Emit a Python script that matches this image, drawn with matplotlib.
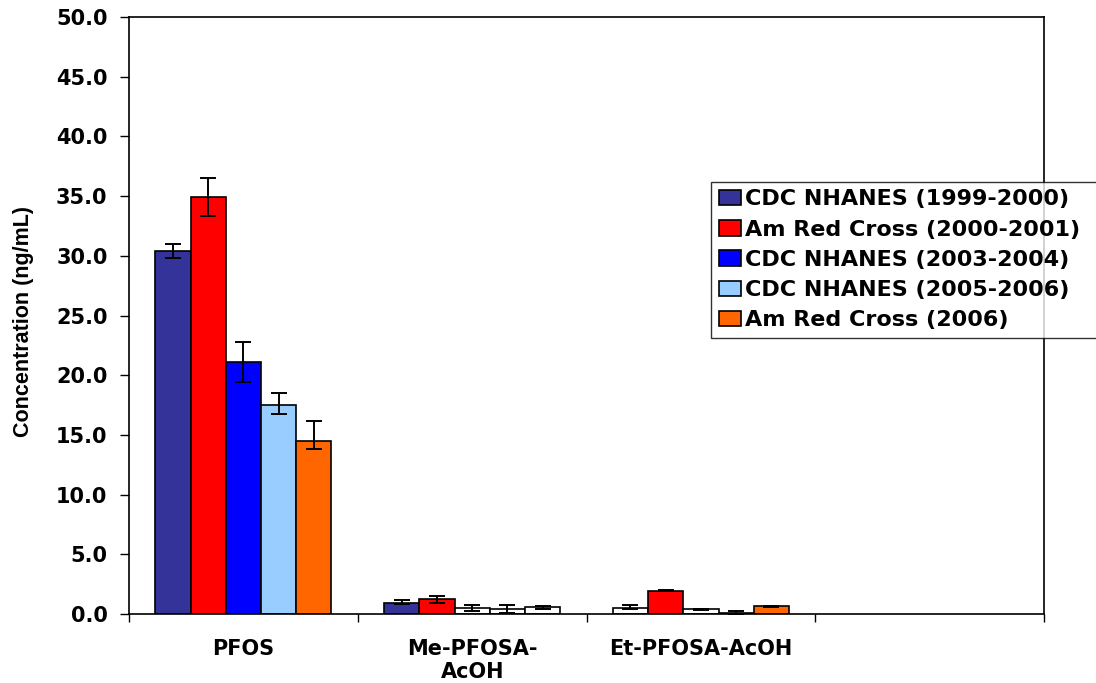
import numpy as np
import matplotlib
matplotlib.use("Agg")
import matplotlib.pyplot as plt
from matplotlib.ticker import FixedLocator, FormatStrFormatter

## Data

categories = ["PFOS", "Me-PFOSA-\nAcOH", "Et-PFOSA-AcOH", ""]

series = ["CDC NHANES (1999-2000)",
          "Am Red Cross (2000-2001)",
          "CDC NHANES (2003-2004)",
          "CDC NHANES (2005-2006)",
          "Am Red Cross (2006)"]

colors = ["#333399", "#FF0000", "#0000FF", "#99CCFF", "#FF6600"]

# values for PFOS, Me-PFOSA-AcOH, Et-PFOSA-AcOH
nhanes_99 = [30.4, 0.95, 0.53]
redcross_00 = [34.9, 1.26, 1.95]
nhanes_03 = [21.1, 0.53, 0.39]
nhanes_05 = [17.5, 0.45, 0.08]
redcross_06 = [14.45, 0.55, 0.64]

# error bars (lower, upper)
err_lo = [[0.60, 0.14, 0.13],
          [1.60, 0.30, 0.06],
          [1.65, 0.25, 0.06],
          [0.75, 0.40, 0.08],
          [0.60, 0.10, 0.07]]
err_hi = [[0.55, 0.22, 0.22],
          [1.60, 0.22, 0.06],
          [1.67, 0.25, 0.06],
          [1.05, 0.33, 0.20],
          [1.70, 0.15, 0.07]]

# bars drawn without fill (white) in the original
white = [[False, False, True],
         [False, False, False],
         [False, True, True],
         [False, True, True],
         [False, True, False]]

values = [nhanes_99, redcross_00, nhanes_03, nhanes_05, redcross_06]

## Figure

fig = plt.figure(figsize=(10.96, 6.83), dpi=100)
ax = fig.add_axes([0.1177, 0.101, 0.8349, 0.8741])

w = 0.154
x = np.arange(len(nhanes_99))

for i in range(len(series)):
    fc = ["white" if white[i][j] else colors[i] for j in range(len(x))]
    ax.bar(x + (i - 2) * w, values[i], width=w, color=fc, edgecolor="black",
           linewidth=1.2, label=series[i], zorder=2)
    ax.errorbar(x + (i - 2) * w, values[i], yerr=[err_lo[i], err_hi[i]],
                fmt="none", ecolor="black", elinewidth=1.4, capsize=5.5,
                capthick=1.4, zorder=3)

ax.set_xlim(-0.5, 3.5)
ax.set_ylim(0, 50)

ax.set_yticks(np.arange(0, 50.1, 5))
ax.yaxis.set_major_formatter(FormatStrFormatter("%.1f"))
ax.tick_params(axis="y", direction="out", length=6.5, width=1, pad=9)
for lab in ax.get_yticklabels():
    lab.set_fontfamily("DejaVu Sans")
    lab.set_fontweight("bold")
    lab.set_fontsize(15)

ax.set_xticks(np.arange(len(categories)))
ax.set_xticklabels(categories, fontfamily="DejaVu Sans", fontweight="bold",
                   fontsize=15, linespacing=1.2)
ax.tick_params(axis="x", which="major", length=0, pad=18)
ax.xaxis.set_minor_locator(FixedLocator(np.arange(-0.5, 3.6, 1)))
ax.tick_params(axis="x", which="minor", direction="out", length=6, width=1)

for s in ax.spines.values():
    s.set_color("black")
    s.set_linewidth(1.2)

ax.set_ylabel("Concentration (ng/mL)", fontfamily="Liberation Sans",
              fontweight="bold", fontsize=15.5)
ax.yaxis.set_label_coords(-0.104, 0.49)

leg = ax.legend(loc="upper left", bbox_to_anchor=(0.6487, 0.734 - 0.3, 0.4, 0.3),
                bbox_transform=fig.transFigure, mode="expand",
                prop={"family": "DejaVu Sans", "weight": "bold", "size": 16},
                frameon=True, fancybox=False, borderpad=0.35, labelspacing=0.46,
                handlelength=1.0, handleheight=0.7, handletextpad=0.2,
                borderaxespad=0)
leg.get_frame().set_edgecolor("black")
leg.get_frame().set_linewidth(1.0)
for h in leg.legend_handles:
    h.set_edgecolor("black")

fig.savefig("out.png", dpi=100)
